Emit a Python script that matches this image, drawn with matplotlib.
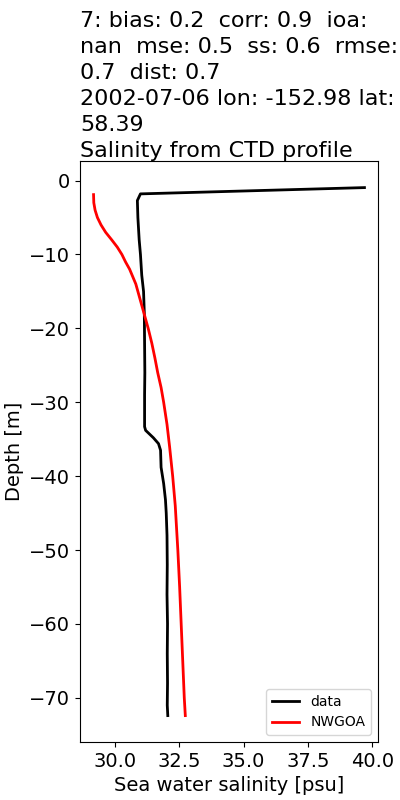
import matplotlib
matplotlib.use("Agg")
import matplotlib.pyplot as plt

data_sal = [39.69, 31.0, 30.88, 30.9, 30.95, 31.0, 31.05, 31.12, 31.15, 31.16, 31.17, 31.16, 31.16, 31.16, 31.2, 31.5, 31.7, 31.78, 31.8, 31.9, 31.97, 32.0, 32.03, 32.04, 32.03, 32.05, 32.04, 32.05, 32.04, 32.06]
data_depth = [-0.95, -1.8, -2.7, -5.0, -8.0, -10.0, -12.8, -15.0, -18.0, -22.0, -26.0, -29.0, -31.5, -33.3, -33.8, -34.8, -35.6, -36.5, -38.8, -41.0, -43.2, -45.0, -48.0, -52.0, -56.0, -60.0, -64.0, -68.0, -71.0, -72.4]

model_sal = [29.18, 29.19, 29.24, 29.33, 29.47, 29.65, 29.88, 30.1, 30.28, 30.42, 30.58, 30.7, 30.82, 30.98, 31.14, 31.3, 31.44, 31.56, 31.67, 31.8, 31.9, 32.03, 32.13, 32.25, 32.35, 32.45, 32.52, 32.58, 32.64, 32.7, 32.74]
model_depth = [-1.9, -3.0, -4.0, -5.0, -6.0, -7.0, -8.0, -9.0, -10.0, -11.0, -12.0, -13.0, -14.0, -16.0, -18.0, -20.0, -22.0, -24.0, -26.0, -28.0, -30.0, -33.0, -36.0, -40.0, -44.0, -50.0, -55.0, -60.0, -65.0, -70.0, -72.4]

title = ("7: bias: 0.2  corr: 0.9  ioa:\nnan  mse: 0.5  ss: 0.6  rmse:\n0.7  dist: 0.7\n"
         "2002-07-06 lon: -152.98 lat:\n58.39\nSalinity from CTD profile")

fig = plt.figure(figsize=(4, 8), dpi=100)
ax = fig.add_axes([0.2, 0.0725, 0.745, 0.726])
ax.plot(data_sal, data_depth, color="black", lw=2, label="data")
ax.plot(model_sal, model_depth, color="red", lw=2, label="NWGOA")
ax.set_xlabel("Sea water salinity [psu]", fontsize=14)
ax.set_ylabel("Depth [m]", fontsize=14)
ax.tick_params(labelsize=14)
ax.set_xticks([30.0, 32.5, 35.0, 37.5, 40.0])
ax.set_title(title, loc="left", fontsize=16, linespacing=1.37, pad=3)
ax.legend(loc="lower right", fontsize=10)
fig.savefig("out.png", dpi=100)
